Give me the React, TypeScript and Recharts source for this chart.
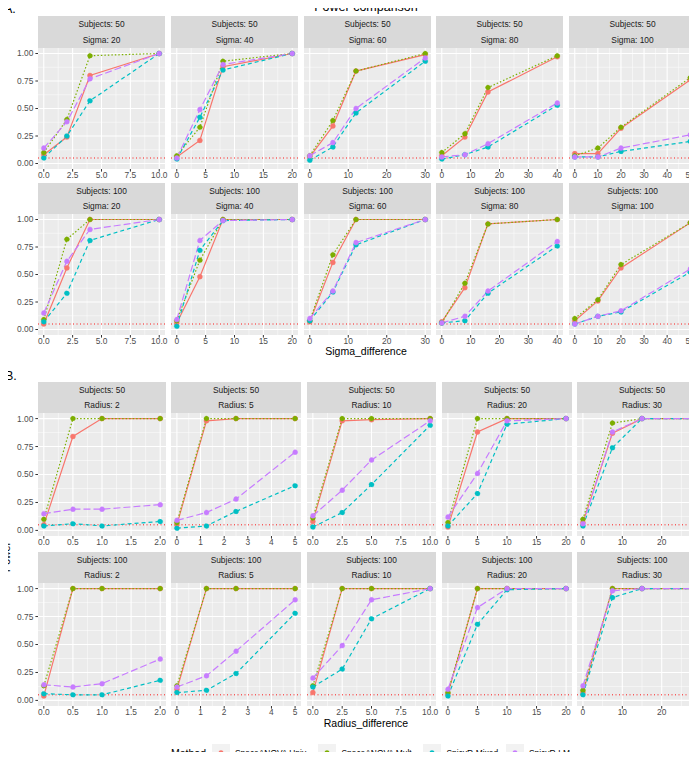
import { LineChart, Line, XAxis, YAxis, CartesianGrid, ReferenceLine } from 'recharts'

const METHODS = ['SpaceANOVA Univ.', 'SpaceANOVA Mult.', 'SpicyR-Mixed', 'SpicyR-LM']
const KEYS = ['univ', 'mult', 'mixed', 'lm']
const COLORS = ['#F8766D', '#7CAE00', '#00BFC4', '#C77CFF']
const DASHES = ['', '1.5 2', '4 3', '7 3']

const sigmaLevels = [20, 40, 60, 80, 100]
const radiusLevels = [2, 5, 10, 20, 30]

const sigmaDiff = [[0, 2, 4, 10], [0, 4, 8, 20], [0, 6, 12, 30], [0, 8, 16, 40], [0, 10, 20, 50]]
const radiusDiff = [[0, 0.5, 1, 2], [0, 1.25, 2.5, 5], [0, 2.5, 5, 10], [0, 5, 10, 20], [0, 7.5, 15, 30]]

const sigmaTicks = [[0, 2.5, 5, 7.5, 10], [0, 5, 10, 15, 20], [0, 10, 20, 30], [0, 10, 20, 30, 40], [0, 10, 20, 30, 40, 50]]
const radiusTicks = [[0, 0.5, 1, 1.5, 2], [0, 1, 2, 3, 4, 5], [0, 2.5, 5, 7.5, 10], [0, 5, 10, 15, 20], [0, 10, 20]]
const powerTicks = [0, 0.25, 0.5, 0.75, 1]
const powerMinor = [0.125, 0.375, 0.625, 0.875]

// A. Subjects: 50 (one row per sigma)
const univA50 = [[0.08, 0.24, 0.8, 1.0], [0.06, 0.21, 0.88, 1.0], [0.06, 0.34, 0.84, 0.99], [0.07, 0.24, 0.65, 0.97], [0.09, 0.09, 0.32, 0.76]]
const multA50 = [[0.1, 0.4, 0.98, 1.0], [0.07, 0.33, 0.93, 1.0], [0.07, 0.39, 0.84, 1.0], [0.1, 0.27, 0.69, 0.98], [0.07, 0.14, 0.33, 0.78]]
const mixedA50 = [[0.05, 0.25, 0.57, 1.0], [0.04, 0.42, 0.85, 1.0], [0.03, 0.15, 0.46, 0.93], [0.04, 0.08, 0.15, 0.53], [0.06, 0.06, 0.11, 0.2]]
const lmA50 = [[0.14, 0.38, 0.77, 1.0], [0.05, 0.49, 0.9, 1.0], [0.07, 0.19, 0.5, 0.96], [0.06, 0.08, 0.18, 0.55], [0.06, 0.06, 0.14, 0.26]]

// A. Subjects: 100
const univA100 = [[0.05, 0.56, 1.0, 1.0], [0.06, 0.48, 1.0, 1.0], [0.07, 0.61, 1.0, 1.0], [0.07, 0.38, 0.96, 1.0], [0.08, 0.26, 0.56, 0.97]]
const multA100 = [[0.09, 0.82, 1.0, 1.0], [0.08, 0.63, 1.0, 1.0], [0.08, 0.68, 1.0, 1.0], [0.06, 0.42, 0.96, 1.0], [0.1, 0.27, 0.59, 0.97]]
const mixedA100 = [[0.07, 0.33, 0.81, 1.0], [0.03, 0.72, 0.99, 1.0], [0.08, 0.34, 0.77, 1.0], [0.06, 0.08, 0.33, 0.76], [0.05, 0.12, 0.16, 0.52]]
const lmA100 = [[0.15, 0.62, 0.91, 1.0], [0.09, 0.81, 0.99, 1.0], [0.1, 0.35, 0.79, 1.0], [0.06, 0.12, 0.35, 0.8], [0.05, 0.12, 0.17, 0.55]]

// B. Subjects: 50 (one row per radius)
const univB50 = [[0.05, 0.84, 1.0, 1.0], [0.05, 0.98, 1.0, 1.0], [0.08, 0.98, 0.99, 1.0], [0.03, 0.88, 1.0, 1.0], [0.07, 0.87, 1.0, 1.0]]
const multB50 = [[0.1, 1.0, 1.0, 1.0], [0.07, 1.0, 1.0, 1.0], [0.11, 1.0, 1.0, 1.0], [0.07, 1.0, 1.0, 1.0], [0.1, 0.96, 1.0, 1.0]]
const mixedB50 = [[0.04, 0.06, 0.04, 0.08], [0.02, 0.04, 0.17, 0.4], [0.03, 0.16, 0.41, 0.94], [0.04, 0.33, 0.95, 1.0], [0.04, 0.74, 1.0, 1.0]]
const lmB50 = [[0.15, 0.19, 0.19, 0.23], [0.09, 0.16, 0.28, 0.7], [0.13, 0.36, 0.63, 0.98], [0.12, 0.51, 0.98, 1.0], [0.06, 0.88, 1.0, 1.0]]

// B. Subjects: 100
const univB100 = [[0.04, 1.0, 1.0, 1.0], [0.1, 1.0, 1.0, 1.0], [0.07, 1.0, 1.0, 1.0], [0.06, 1.0, 1.0, 1.0], [0.07, 1.0, 1.0, 1.0]]
const multB100 = [[0.13, 1.0, 1.0, 1.0], [0.13, 1.0, 1.0, 1.0], [0.13, 1.0, 1.0, 1.0], [0.07, 1.0, 1.0, 1.0], [0.09, 1.0, 1.0, 1.0]]
const mixedB100 = [[0.06, 0.05, 0.05, 0.18], [0.07, 0.09, 0.24, 0.78], [0.12, 0.28, 0.73, 1.0], [0.04, 0.68, 0.99, 1.0], [0.05, 0.92, 1.0, 1.0]]
const lmB100 = [[0.14, 0.12, 0.15, 0.37], [0.12, 0.22, 0.44, 0.9], [0.2, 0.49, 0.9, 1.0], [0.1, 0.83, 1.0, 1.0], [0.13, 0.98, 1.0, 1.0]]

const FONT = "'Liberation Sans', Arial, Helvetica, sans-serif"
const colsA = [38, 171, 304, 436, 569]
const widthsA = [127, 127, 127, 127, 127]
const colsB = [38, 171, 307, 442, 577]
const widthsB = [128, 130, 129, 130, 130]
const STRIP_H = 31.5
const AXIS_H = 14
const Y_AXIS_W = 38

const rows = [
  { subj: 50, stripTop: 16, plotH: 121, section: 'A', series: [univA50, multA50, mixedA50, lmA50] },
  { subj: 100, stripTop: 182.7, plotH: 121, section: 'A', series: [univA100, multA100, mixedA100, lmA100] },
  { subj: 50, stripTop: 381.7, plotH: 123, section: 'B', series: [univB50, multB50, mixedB50, lmB50] },
  { subj: 100, stripTop: 551.7, plotH: 123, section: 'B', series: [univB100, multB100, mixedB100, lmB100] },
]

function Panel({ left, top, width, plotH, showY, label1, label2, xs, ticks, series }: any) {
  const data = xs.map((x: number, i: number) => {
    const row: any = { x }
    KEYS.forEach((k, s) => (row[k] = series[s][i]))
    return row
  })
  const min = Math.min(...xs)
  const max = Math.max(...xs)
  const pad = (max - min) * 0.05
  const lo = min - pad
  const hi = max + pad
  const step = ticks[1] - ticks[0]
  const minorX = [ticks[0] - step / 2, ...ticks.map((t: number) => t + step / 2)].filter((v) => v > lo && v < hi)
  const decimals = ticks.some((t: number) => !Number.isInteger(t)) ? 1 : 0
  const chartLeft = showY ? left - Y_AXIS_W : left

  return (
    <>
      <div
        style={{
          position: 'absolute',
          left,
          top,
          width,
          height: STRIP_H,
          background: '#D9D9D9',
          color: '#1A1A1A',
          fontSize: 8.4,
          lineHeight: '15.5px',
          paddingTop: 1,
          boxSizing: 'border-box',
          textAlign: 'center',
        }}
      >
        <div>{label1}</div>
        <div>{label2}</div>
      </div>
      <div style={{ position: 'absolute', left: chartLeft, top: top + STRIP_H, overflow: 'visible' }}>
        <LineChart
          width={width + (showY ? Y_AXIS_W : 0)}
          height={plotH + AXIS_H}
          data={data}
          margin={{ top: 0, right: 0, bottom: 0, left: 0 }}
          style={{ overflow: 'visible' }}
        >
          <CartesianGrid
            horizontalValues={powerMinor}
            verticalValues={minorX}
            stroke="#FFFFFF"
            strokeWidth={0.5}
            fill="#EBEBEB"
            fillOpacity={1}
          />
          <CartesianGrid horizontalValues={powerTicks} verticalValues={ticks} stroke="#FFFFFF" strokeWidth={1.1} />
          <XAxis
            dataKey="x"
            type="number"
            domain={[lo, hi]}
            ticks={ticks}
            interval={0}
            height={AXIS_H}
            axisLine={false}
            tickLine={{ stroke: '#333333' }}
            tickSize={2.6}
            tickMargin={0}
            tick={{ fontSize: 8.4, fill: '#4D4D4D' }}
            tickFormatter={(v: number) => v.toFixed(decimals)}
            allowDataOverflow
          />
          <YAxis
            type="number"
            domain={[-0.05, 1.05]}
            ticks={powerTicks}
            hide={!showY}
            width={Y_AXIS_W}
            axisLine={false}
            tickLine={{ stroke: '#333333' }}
            tickSize={2.6}
            tickMargin={2}
            tick={{ fontSize: 8.4, fill: '#4D4D4D' }}
            tickFormatter={(v: number) => v.toFixed(2)}
          />
          <ReferenceLine y={0.05} stroke="#FF0000" strokeWidth={0.9} strokeDasharray="1 2.5" />
          {KEYS.map((k, s) => (
            <Line
              key={k}
              type="linear"
              dataKey={k}
              stroke={COLORS[s]}
              strokeWidth={1.2}
              strokeDasharray={DASHES[s] || undefined}
              dot={{ r: 2.5, fill: COLORS[s], stroke: COLORS[s], strokeWidth: 0.4 }}
              activeDot={false}
              isAnimationActive={false}
            />
          ))}
        </LineChart>
      </div>
    </>
  )
}

function LegendKey({ x, idx }: { x: number; idx: number }) {
  const cy = 752.7
  return (
    <g>
      <rect x={x} y={744} width={18} height={17} fill="#F2F2F2" />
      <line
        x1={x + 1}
        x2={x + 17}
        y1={cy}
        y2={cy}
        stroke={COLORS[idx]}
        strokeWidth={1.2}
        strokeDasharray={DASHES[idx] || undefined}
      />
      <circle cx={x + 9} cy={cy} r={2.5} fill={COLORS[idx]} />
    </g>
  )
}

export default function App() {
  const keyX = [212, 318, 423, 506]
  const labelX = [235, 341.5, 446.5, 529]

  return (
    <div
      style={{
        position: 'relative',
        margin: -8,
        width: 697,
        height: 760,
        overflow: 'hidden',
        background: '#FFFFFF',
        fontFamily: FONT,
      }}
    >
      <style>{'.recharts-surface{overflow:visible}.recharts-wrapper{overflow:visible}'}</style>
      <svg width={697} height={760} style={{ position: 'absolute', left: 0, top: 0 }}>
        <text x={366} y={11} textAnchor="middle" fontSize={12.5} fill="#000">Power comparison</text>
        <text x={4} y={13} fontSize={12.5} fill="#000">A.</text>
        <text x={5} y={380} fontSize={12.5} fill="#000">B.</text>
        <text x={366} y={354.5} textAnchor="middle" fontSize={10.5} fill="#000">Sigma_difference</text>
        <text x={366} y={727} textAnchor="middle" fontSize={10.5} fill="#000">Radius_difference</text>
        <text x={10} y={557} textAnchor="middle" fontSize={10.5} fill="#000" transform="rotate(-90 10 557)">Power</text>
        <text x={171} y={756.5} fontSize={10.5} fill="#000">Method</text>
        {METHODS.map((m, i) => (
          <g key={m}>
            <LegendKey x={keyX[i]} idx={i} />
            <text x={labelX[i]} y={755.7} fontSize={8.4} fill="#000">{m}</text>
          </g>
        ))}
      </svg>
      {rows.map((r, ri) => {
        const isA = r.section === 'A'
        const levels = isA ? sigmaLevels : radiusLevels
        const cols = isA ? colsA : colsB
        const widths = isA ? widthsA : widthsB
        return levels.map((lvl, ci) => (
          <Panel
            key={`${ri}-${ci}`}
            left={cols[ci]}
            top={r.stripTop}
            width={widths[ci]}
            plotH={r.plotH}
            showY={ci === 0}
            label1={`Subjects: ${r.subj}`}
            label2={`${isA ? 'Sigma' : 'Radius'}: ${lvl}`}
            xs={isA ? sigmaDiff[ci] : radiusDiff[ci]}
            ticks={isA ? sigmaTicks[ci] : radiusTicks[ci]}
            series={r.series.map((s) => s[ci])}
          />
        ))
      })}
    </div>
  )
}
